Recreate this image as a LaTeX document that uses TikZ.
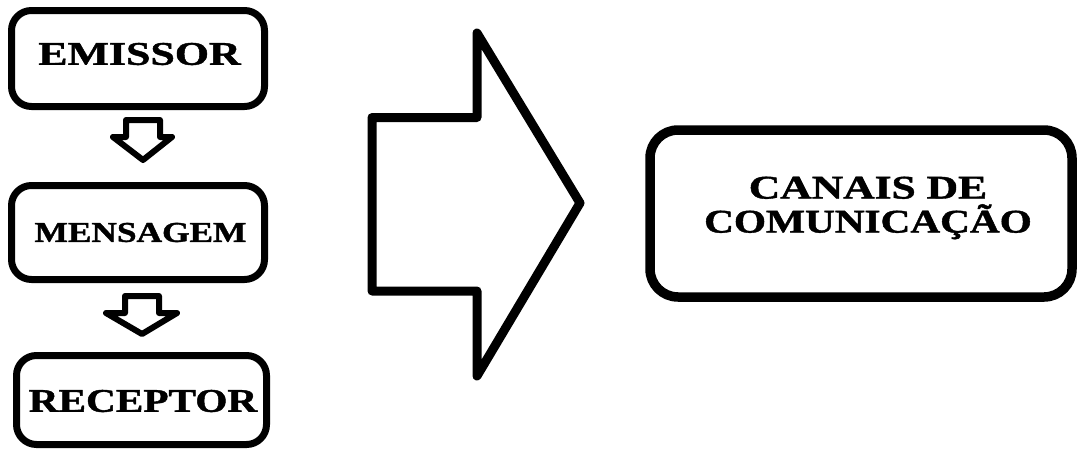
\documentclass[tikz,border=0pt]{standalone}
\usepackage{fontspec}
\usepackage{graphicx}
\setmainfont{Liberation Serif}[BoldFeatures={FakeBold=1.2}]
\tikzset{
  box/.style={draw=black, line width=7pt, rounded corners=20pt, inner sep=0pt, fill=white},
  bigbox/.style={draw=black, line width=9.5pt, rounded corners=28pt, inner sep=0pt, fill=white},
  blockarrow/.style={draw=black, line width=6pt, line join=round, fill=white},
  bigarrow/.style={draw=black, line width=9pt, line join=round, fill=white},
  lbl/.style={font=\bfseries, align=center, inner sep=0pt}
}
\newcommand{\wide}[2]{\scalebox{#1}[1]{#2}}
\begin{document}
\begin{tikzpicture}[x=1pt,y=-1pt]
\useasboundingbox (0,0) rectangle (1078,453);
% left boxes
\node[box, minimum width=253pt, minimum height=96pt] (emissor) at (138,58.5) {};
\node[box, minimum width=253pt, minimum height=94pt] (mensagem) at (138,232.5) {};
\node[box, minimum width=250pt, minimum height=89pt] (receptor) at (141.5,400) {};
\node[lbl, font=\bfseries\fontsize{33}{36}\selectfont] (temissor) at (139.5,54) {\wide{1.33}{EMISSOR}};
\node[lbl, font=\bfseries\fontsize{28.7}{32}\selectfont] (tmensagem) at (140.5,232.5) {\wide{1.23}{MENSAGEM}};
\node[lbl, font=\bfseries\fontsize{33}{36}\selectfont] (treceptor) at (143,401) {\wide{1.25}{RECEPTOR}};
% small block arrows
\draw[blockarrow] (126,120) -- (160,120) -- (160,137) -- (172,137) -- (143,160) -- (113,137) -- (126,137) -- cycle;
\draw[blockarrow] (125,296) -- (159,296) -- (159,313) -- (177,313) -- (142,334) -- (106,313) -- (125,313) -- cycle;
% big arrow
\draw[bigarrow] (372,117.5) -- (477,117.5) -- (477,33) -- (580,203) -- (477,376) -- (477,291) -- (372,291) -- cycle;
% right box
\node[bigbox, minimum width=422pt, minimum height=167pt] (canais) at (861,213.5) {};
\node[lbl, font=\bfseries\fontsize{33}{34}\selectfont] (tcanais) at (868,208) {\wide{1.32}{CANAIS DE}\\\wide{1.25}{COMUNICAÇÃO}};
\end{tikzpicture}
\end{document}
